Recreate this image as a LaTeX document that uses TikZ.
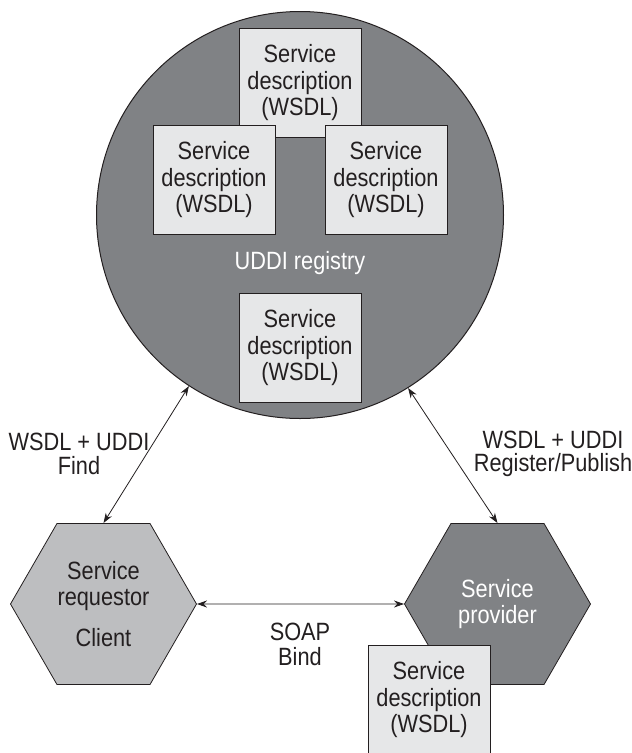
\documentclass[tikz,border=0pt]{standalone}
\usepackage{fontspec}
\setmainfont{Liberation Sans}[FakeStretch=0.87]
\usepackage{tikz}
\usepackage{xcolor}
\usetikzlibrary{positioning,arrows.meta,shapes.geometric}
\definecolor{regfill}{HTML}{808285}
\definecolor{reqfill}{HTML}{BDBEC0}
\definecolor{descfill}{HTML}{E6E7E8}
\definecolor{inkdark}{HTML}{231F20}

\begin{document}
\begin{tikzpicture}[x=1pt,y=-1pt,
    every node/.style={font=\fontsize{25}{26.5}\selectfont,text=inkdark},
    descbox/.style={draw=inkdark,line width=1pt,fill=descfill,minimum width=122pt,
      minimum height=109pt,inner sep=0pt,align=center},
    hexnode/.style={regular polygon,regular polygon sides=6,draw=inkdark,line width=0.8pt,
      minimum size=186pt,inner sep=0pt,align=center},
    link/.style={{Stealth[length=10pt,width=7pt]}-{Stealth[length=10pt,width=7pt]},
      line width=0.8pt,draw=inkdark}]
  \useasboundingbox (0,0) rectangle (632,753);
  % UDDI registry
  \node[circle,draw=inkdark,line width=1pt,fill=regfill,minimum size=407pt,inner sep=0pt]
    (uddi) at (300,215) {};
  \node[descbox] (desctop) at (300,83) {Service\\description\\(WSDL)};
  \node[descbox] (descleft) at (214,180) {Service\\description\\(WSDL)};
  \node[descbox] (descright) at (386,180) {Service\\description\\(WSDL)};
  \node[text=white] (uddilbl) at (300,263) {UDDI registry};
  \node[descbox] (descbot) at (300,348) {Service\\description\\(WSDL)};
  % requestor and provider
  \node[hexnode,fill=reqfill] (req) at (103.5,604) {Service\\requestor\\[14pt]Client};
  \node[hexnode,fill=regfill,text=white] (prov) at (497.5,604) {Service\\provider};
  \node[descbox] (descprov) at (429,700) {Service\\description\\(WSDL)};
  % connectors
  \draw[link] (uddi.237.8) -- (req.north);
  \draw[link] (uddi.302.6) -- (prov.north);
  \draw[link] (req.east) -- (prov.west);
  % labels
  \node[align=center,font=\fontsize{25}{23.5}\selectfont] (findlbl) at (79,454) {WSDL + UDDI\\Find};
  \node[align=center,font=\fontsize{25}{23.5}\selectfont] (publbl) at (553,454) {WSDL + UDDI\\Register/Publish};
  \node[align=center,font=\fontsize{25}{25}\selectfont] (bindlbl) at (300,644.5) {SOAP\\Bind};
\end{tikzpicture}
\end{document}
